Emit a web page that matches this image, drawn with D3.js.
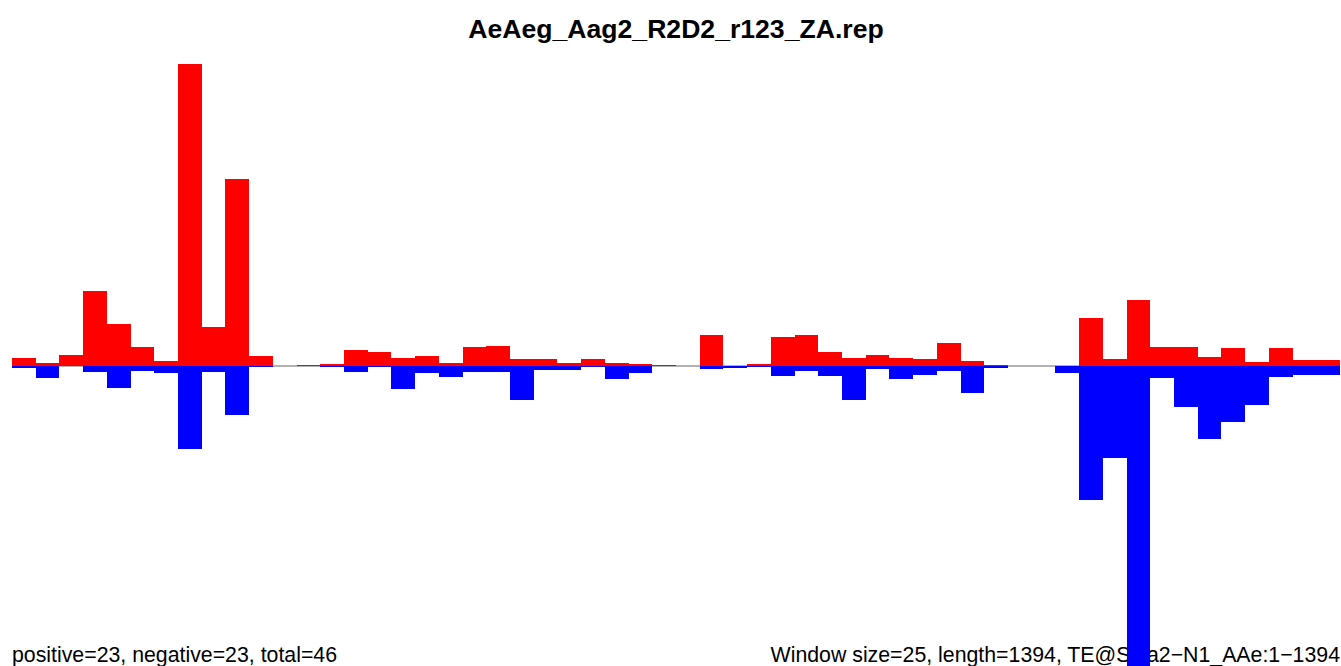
<!DOCTYPE html>
<html><head><meta charset="utf-8">
<script src="https://cdn.jsdelivr.net/npm/d3@7"></script>
<style>body{margin:0;background:#fff}svg{display:block}</style>
</head><body><svg id="c" width="1341" height="666"></svg>
<script>
const windowSize = 25, seqLength = 1394;
const windows = d3.range(56);
const positive = [8,3,11,75,42,19,5,302,39,187,10,0,1,2,16,14,8,10,3,19,20,7,7,3,7,3,2,1,0,31,0,2,29,31,14,8,11,8,7,23,5,1,0,0,0,48,7,66,19,19,9,18,4,18,6,6];
const negative = [2,12,0,6,22,5,7,83,6,49,1,0,0,1,6,1,23,7,11,6,6,34,4,4,1,13,7,0,0,3,2,1,10,5,10,34,3,13,9,5,27,2,0,0,7,134,92,305,12,41,73,56,39,11,9,9];
const title = "AeAeg_Aag2_R2D2_r123_ZA.rep";
const leftNote = "positive=23, negative=23, total=46";
const rightNote = "Window size=25, length=1394, TE@Sola2\u2212N1_AAe:1\u22121394";

const svg = d3.select("#c");
const x = d3.scaleBand().domain(windows).range([12, 1340]).padding(0);
const yMax = 302;
const y = d3.scaleLinear().domain([-yMax, yMax]).range([668, 64]);

svg.append("text").attr("x", 676).attr("y", 38).attr("text-anchor", "middle")
  .attr("font-family", "Liberation Sans, Arial, sans-serif").attr("font-weight", "bold")
  .attr("font-size", 26.6).text(title);
svg.append("text").attr("x", 12).attr("y", 662)
  .attr("font-family", "Liberation Sans, Arial, sans-serif").attr("font-size", 21.3).text(leftNote);
svg.append("text").attr("x", 1340).attr("y", 662).attr("text-anchor", "end")
  .attr("font-family", "Liberation Sans, Arial, sans-serif").attr("font-size", 21.3).text(rightNote);

svg.append("line").attr("x1", 12).attr("x2", 1340).attr("y1", y(0)).attr("y2", y(0))
  .attr("stroke", "#999").attr("stroke-width", 1.5);

svg.append("g").selectAll("rect").data(windows).join("rect")
  .attr("x", d => x(d)).attr("width", x.bandwidth())
  .attr("y", y(0)).attr("height", d => y(-negative[d]) - y(0))
  .attr("fill", "#0000ff").attr("shape-rendering", "crispEdges");
svg.append("g").selectAll("rect").data(windows).join("rect")
  .attr("x", d => x(d)).attr("width", x.bandwidth())
  .attr("y", d => y(positive[d])).attr("height", d => y(0) - y(positive[d]))
  .attr("fill", "#ff0000").attr("shape-rendering", "crispEdges");
</script></body></html>
